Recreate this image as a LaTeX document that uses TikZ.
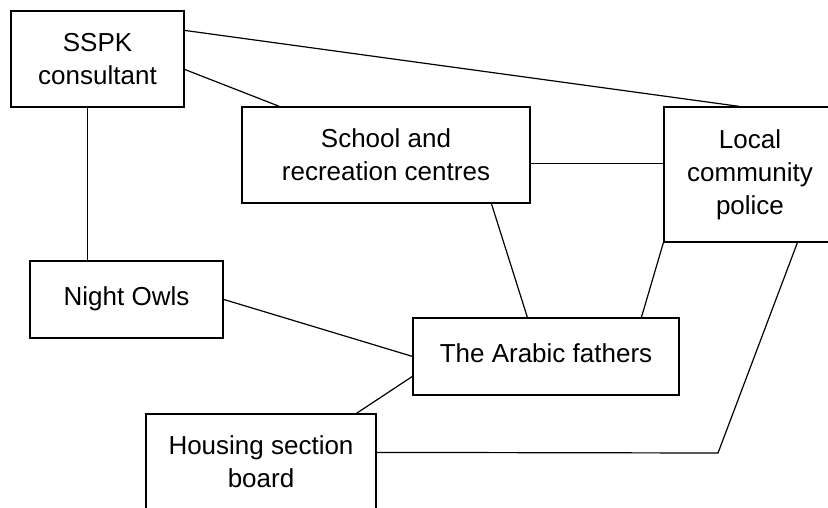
\documentclass[tikz,border=0pt]{standalone}
\usepackage{fontspec}
\setmainfont{Liberation Sans}
\usetikzlibrary{calc}
\begin{document}
\begin{tikzpicture}[x=1pt,y=-1pt,
  box/.style={draw,line width=1.2pt,rectangle,inner sep=0pt,align=center,
    font=\fontsize{26}{33}\selectfont},
  link/.style={line width=1.2pt}]
\clip (0,0) rectangle (828,508);
\fill[white] (0,0) rectangle (828,508);
\node[box,minimum width=173pt,minimum height=96pt] (sspk) at (97.5,59) {SSPK\\consultant};
\node[box,minimum width=288pt,minimum height=96pt] (school) at (386,155) {School and\\recreation centres};
\node[box,minimum width=172pt,minimum height=135pt] (local) at (750,174.5) {Local\\community\\police};
\node[box,minimum width=193pt,minimum height=77pt] (owls) at (126.5,299.5) {\raisebox{7pt}{Night Owls}};
\node[box,minimum width=266pt,minimum height=77pt] (arabic) at (546,356.5) {\raisebox{7pt}{The Arabic fathers}};
\node[box,minimum width=230pt,minimum height=96pt] (housing) at (261,462) {Housing section\\board};
\coordinate (bend) at (718,453);
\draw[link] ([yshift=-20pt]sspk.north east) -- ([xshift=76pt]local.north west);
\draw[link] ([yshift=-59pt]sspk.north east) -- ([xshift=38pt]school.north west);
\draw[link] ([xshift=77pt]sspk.south west) -- ([xshift=58pt]owls.north west);
\draw[link] ([yshift=-57pt]school.north east) -- ([yshift=-57pt]local.north west);
\draw[link] ([xshift=250pt]school.south west) -- ([xshift=115pt]arabic.north west);
\draw[link] (local.south west) -- ([xshift=229pt]arabic.north west);
\draw[link] ([yshift=-39pt]owls.north east) -- ([yshift=-39pt]arabic.north west);
\draw[link] ([yshift=-59pt]arabic.north west) -- ([xshift=211pt]housing.north west);
\draw[link] ([yshift=-39pt]housing.north east) -- (bend) -- ([xshift=134pt]local.south west);
\end{tikzpicture}
\end{document}
